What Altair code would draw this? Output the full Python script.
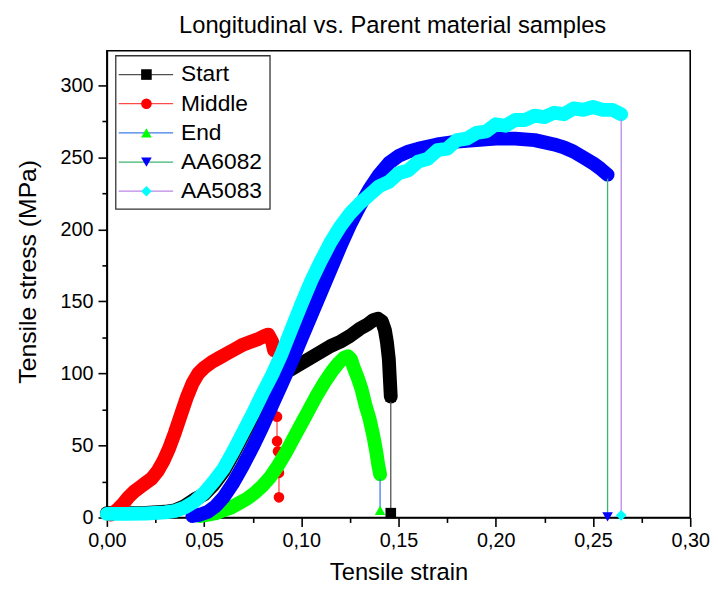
import altair as alt
import pandas as pd

# ---------------- data ----------------
series_names = ["Start", "Middle", "End", "AA6082", "AA5083"]

start_strain = [0.000, 0.010, 0.020, 0.030, 0.035, 0.040, 0.045, 0.050, 0.055, 0.060,
                0.065, 0.070, 0.075, 0.080, 0.085, 0.090, 0.095, 0.100, 0.105, 0.110,
                0.115, 0.120, 0.125, 0.130, 0.134, 0.137, 0.1395, 0.1415, 0.143, 0.144,
                0.145, 0.1455, 0.146]
start_stress = [3, 3, 3.2, 4, 5, 8, 12.5, 16, 23, 32,
                44, 57, 70, 84, 96, 100, 103, 107, 111, 115,
                119, 122, 126, 131, 134, 137, 138, 136, 130, 122,
                110, 97, 84]
start_drop_strain = [0.146, 0.146]
start_drop_stress = [84, 3]

middle_strain = [0.002, 0.005, 0.008, 0.011, 0.014, 0.017, 0.020, 0.023, 0.026, 0.029,
                 0.032, 0.035, 0.038, 0.041, 0.044, 0.047, 0.050, 0.054, 0.058, 0.062,
                 0.066, 0.070, 0.074, 0.078, 0.081, 0.083, 0.085, 0.086]
middle_stress = [2, 5, 9, 14, 18, 21, 24, 27, 32, 39,
                 48, 59, 71, 83, 93, 100, 104, 108, 111, 114,
                 117, 120, 122, 124, 126, 127, 122, 116]
middle_drop_strain = [0.086, 0.0875, 0.0875, 0.088, 0.0885, 0.0885]
middle_drop_stress = [116, 70, 53, 46, 31, 14]

end_strain = [0.048, 0.052, 0.056, 0.060, 0.064, 0.068, 0.072, 0.076, 0.080, 0.084,
              0.088, 0.092, 0.096, 0.100, 0.104, 0.108, 0.112, 0.116, 0.119, 0.122,
              0.124, 0.1255, 0.127, 0.129, 0.131, 0.133, 0.135, 0.137, 0.1385, 0.1395,
              0.1405]
end_stress = [1, 2, 3, 5, 7, 10, 13, 17, 22, 28,
              36, 45, 55, 65, 75, 85, 94, 102, 107, 111,
              112, 110, 104, 97, 89, 78, 69, 57, 46, 37,
              30]
end_drop_strain = [0.1405, 0.1405]
end_drop_stress = [30, 5]

aa6082_strain = [0.044, 0.048, 0.052, 0.056, 0.060, 0.065, 0.070, 0.075, 0.080, 0.085,
                 0.090, 0.095, 0.100, 0.105, 0.110, 0.115, 0.120, 0.125, 0.130, 0.135,
                 0.140, 0.145, 0.150, 0.155, 0.160, 0.170, 0.180, 0.190, 0.200, 0.210,
                 0.220, 0.230, 0.235, 0.240, 0.245, 0.250, 0.254, 0.2575]
aa6082_stress = [1, 2, 4, 8, 14, 24, 36, 49, 63, 78,
                 93, 108, 124, 140, 156, 172, 188, 203, 216, 228,
                 238, 246, 251, 254, 256, 259, 261, 262, 263, 263,
                 262, 259, 257, 254, 250, 246, 242, 238]
aa6082_drop_strain = [0.2575, 0.2575]
aa6082_drop_stress = [238, 0.5]

aa5083_strain = [0.000, 0.010, 0.020, 0.030, 0.035, 0.040, 0.045, 0.050, 0.055, 0.060,
                 0.065, 0.070, 0.075, 0.080, 0.085, 0.090, 0.095, 0.100, 0.105, 0.110,
                 0.115, 0.120, 0.125, 0.130, 0.135, 0.140, 0.145, 0.150, 0.155, 0.160,
                 0.165, 0.170, 0.175, 0.180, 0.185, 0.190, 0.195, 0.200, 0.205, 0.210,
                 0.215, 0.220, 0.225, 0.230, 0.235, 0.240, 0.245, 0.250, 0.255, 0.260,
                 0.2645]
aa5083_stress = [2.5, 2.5, 2.8, 3.5, 4.5, 7, 11, 17, 25, 34,
                 46, 59, 72, 86, 99, 114, 131, 148, 164, 178,
                 191, 202, 211, 218, 224, 230, 233, 239, 241, 247,
                 249, 255, 256, 262, 263, 267, 268, 273, 272, 276,
                 276, 279, 278, 281, 280, 284, 283, 285, 283, 283,
                 280]
aa5083_drop_strain = [0.2645, 0.2645]
aa5083_drop_stress = [280, 1.5]

x_major = [0.0, 0.05, 0.10, 0.15, 0.20, 0.25, 0.30]
x_minor = [0.025, 0.075, 0.125, 0.175, 0.225, 0.275]
y_major = [0, 50, 100, 150, 200, 250, 300]
y_minor = [25, 75, 125, 175, 225, 275]

# ---------------- styles ----------------
marker_colors = ["#000000", "#ff0000", "#00ff00", "#0000ff", "#00ffff"]
line_colors = ["#505050", "#ff4848", "#3f7fe6", "#3cb371", "#b987e6"]
shapes = ["square", "circle", "triangle-up", "triangle-down", "diamond"]
FONT = "Liberation Sans, Arial, sans-serif"

curves = [
    (start_strain, start_stress, start_drop_strain, start_drop_stress),
    (middle_strain, middle_stress, middle_drop_strain, middle_drop_stress),
    (end_strain, end_stress, end_drop_strain, end_drop_stress),
    (aa6082_strain, aa6082_stress, aa6082_drop_strain, aa6082_drop_stress),
    (aa5083_strain, aa5083_stress, aa5083_drop_strain, aa5083_drop_stress),
]

rows = []
for name, (bs, bv, ds, dv) in zip(series_names, curves):
    for k, (s, v) in enumerate(zip(bs, bv)):
        rows.append({"series": name, "strain": s, "stress": v, "part": "band", "seq": k})
    for k, (s, v) in enumerate(zip(ds, dv)):
        rows.append({"series": name, "strain": s, "stress": v, "part": "drop", "seq": k})
        rows.append({"series": name, "strain": s, "stress": v, "part": "marker", "seq": k})
df = pd.DataFrame(rows)

xscale = alt.Scale(domain=[0, 0.30], nice=False, zero=False)
yscale = alt.Scale(domain=[0, 324], nice=False, zero=False)

label_expr_x = "replace(format(datum.value, '.2f'), '.', ',')"

base = alt.Chart(df)

major_axes = base.mark_point(opacity=0).encode(
    x=alt.X("strain:Q", scale=xscale, title="Tensile strain",
            axis=alt.Axis(orient="bottom", values=x_major, labelExpr=label_expr_x,
                          labelFlush=False, tickSize=9, labelPadding=4, titlePadding=11)),
    y=alt.Y("stress:Q", scale=yscale, title="Tensile stress (MPa)",
            axis=alt.Axis(orient="left", values=y_major, format="d", labelFlush=False,
                          tickSize=9, labelPadding=5, titlePadding=20, titleY=223,
                          titleFontSize=25)),
)
minor_axes = base.mark_point(opacity=0).encode(
    x=alt.X("strain:Q", scale=xscale, title=None,
            axis=alt.Axis(orient="bottom", values=x_minor, labels=False, tickSize=5, domain=False)),
    y=alt.Y("stress:Q", scale=yscale, title=None,
            axis=alt.Axis(orient="left", values=y_minor, labels=False, tickSize=5, domain=False)),
)

layers = [major_axes, minor_axes]
for name, mc, lc, sh in zip(series_names, marker_colors, line_colors, shapes):
    enc = dict(
        x=alt.X("strain:Q", scale=xscale, axis=None),
        y=alt.Y("stress:Q", scale=yscale, axis=None),
        order=alt.Order("seq:Q"),
    )
    band = base.transform_filter(
        (alt.datum.series == name) & (alt.datum.part == "band")
    ).mark_line(color=mc, strokeWidth=14, strokeCap="round", strokeJoin="round").encode(**enc)
    drop = base.transform_filter(
        (alt.datum.series == name) & (alt.datum.part == "drop")
    ).mark_line(color=lc, strokeWidth=1.3).encode(**enc)
    pts = base.transform_filter(
        (alt.datum.series == name) & (alt.datum.part == "marker")
    ).mark_point(shape=sh, filled=True, size=115, color=mc, opacity=1).encode(
        x=alt.X("strain:Q", scale=xscale, axis=None),
        y=alt.Y("stress:Q", scale=yscale, axis=None),
    )
    layers += [band, drop, pts]

data_layer = alt.layer(*layers).resolve_axis(x="independent", y="independent")

# ---------------- legend (drawn in plot pixel space) ----------------
legend_df = pd.DataFrame({"name": series_names, "idx": list(range(len(series_names)))})
lbase = alt.Chart(legend_df).transform_calculate(ly="24 + datum.idx * 29.5")

box = alt.Chart(pd.DataFrame({"b": [0]})).mark_rect(
    fill="white", stroke="#333333", strokeWidth=1.3
).encode(x=alt.value(9), x2=alt.value(165), y=alt.value(5), y2=alt.value(160))

leg_lines = lbase.mark_rule(strokeWidth=1.3).encode(
    x=alt.value(12), x2=alt.value(67),
    y=alt.Y("ly:Q", scale=None, axis=None),
    color=alt.Color("name:N", scale=alt.Scale(domain=series_names, range=line_colors), legend=None),
)
leg_pts = lbase.mark_point(filled=True, size=115, opacity=1).encode(
    x=alt.value(40),
    y=alt.Y("ly:Q", scale=None, axis=None),
    shape=alt.Shape("name:N", scale=alt.Scale(domain=series_names, range=shapes), legend=None),
    color=alt.Color("name:N", scale=alt.Scale(domain=series_names, range=marker_colors), legend=None),
)
leg_text = lbase.mark_text(align="left", baseline="middle", fontSize=23, font=FONT, color="black").encode(
    x=alt.value(75),
    y=alt.Y("ly:Q", scale=None, axis=None),
    text="name:N",
)
legend_layer = alt.layer(box, leg_lines, leg_pts, leg_text).resolve_scale(color="independent")

chart = alt.layer(data_layer, legend_layer).resolve_scale(
    x="independent", y="independent", color="independent", shape="independent"
).properties(
    width=590, height=472,
    autosize=alt.AutoSizeParams(type="none"),
    padding={"left": 100, "top": 40, "right": 20, "bottom": 69},
    title=alt.TitleParams("Longitudinal vs. Parent material samples", fontSize=24,
                          fontWeight="normal", font=FONT, color="black", offset=13, dx=-6),
).configure_axis(
    grid=False, domainColor="black", domainWidth=1.6, tickColor="black", tickWidth=1.6,
    labelFont=FONT, labelFontSize=20, labelColor="black",
    titleFont=FONT, titleFontSize=24, titleFontWeight="normal", titleColor="black",
).configure_view(stroke="black", strokeWidth=1.6)

chart.save("out.html", embed_options={"renderer": "svg", "actions": False})
